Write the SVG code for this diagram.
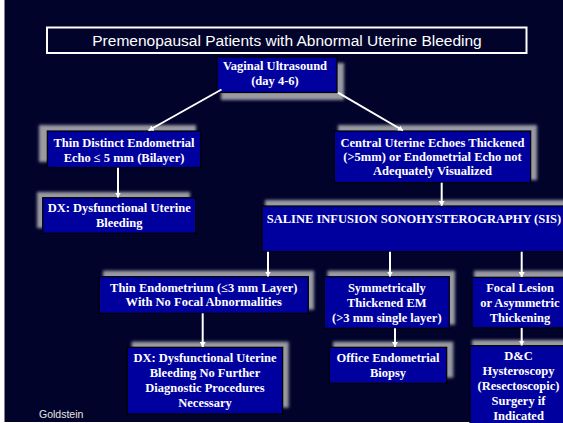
<svg xmlns="http://www.w3.org/2000/svg" width="563" height="423" viewBox="0 0 563 423">
<defs>
<filter id="blur" x="-10%" y="-20%" width="120%" height="140%"><feGaussianBlur stdDeviation="1.5"/></filter>
<marker id="arr" markerWidth="6" markerHeight="6" refX="5" refY="3" orient="auto" markerUnits="userSpaceOnUse"><path d="M0,0 L5,3 L0,6 z" fill="#ffffff"/></marker>
</defs>
<style>
.bg{fill:#01032b}
.box{fill:#00009e;stroke:#000000;stroke-width:1.2}
.sh{fill:#9a9aa2;filter:url(#blur)}
.t{font-family:"Liberation Serif","Times New Roman",serif;font-weight:bold;font-size:12.5px;fill:#ffffff;text-anchor:middle}
.c{stroke:#ffffff;stroke-width:2;fill:none;marker-end:url(#arr)}
</style>
<rect x="0" y="0" width="563" height="423" fill="#ffffff"/>
<rect class="bg" x="4.5" y="0" width="559" height="422"/>

<g id="title">
<rect x="47" y="27.5" width="479.5" height="25.5" fill="none" stroke="#ffffff" stroke-width="2"/>
<text x="287" y="46" font-family="'Liberation Sans',Arial,sans-serif" font-size="15.5" fill="#ffffff" text-anchor="middle">Premenopausal Patients with Abnormal Uterine Bleeding</text>
</g>

<g id="vaginal">
<rect class="sh" x="221" y="63" width="123" height="37"/>
<rect class="box" x="217" y="57" width="120" height="35.5"/>
<text class="t" x="275" y="69.5">Vaginal Ultrasound</text>
<text class="t" x="275" y="85">(day 4-6)</text>
</g>

<g id="thin-distinct">
<rect class="sh" x="39" y="125" width="157" height="37"/>
<rect class="box" x="47.3" y="131" width="153.4" height="36.7"/>
<text class="t" x="124" y="146.5">Thin Distinct Endometrial</text>
<text class="t" x="124" y="161.5">Echo ≤ 5 mm (Bilayer)</text>
</g>

<g id="dx-dub">
<rect class="sh" x="37" y="192" width="153" height="36"/>
<rect class="box" x="42.7" y="197.7" width="153" height="35.5"/>
<text class="t" x="119.2" y="211.7">DX: Dysfunctional Uterine</text>
<text class="t" x="119.2" y="226.7">Bleeding</text>
</g>

<g id="central">
<rect class="sh" x="338" y="125" width="199" height="55"/>
<rect class="box" x="334.3" y="131" width="196.4" height="51.7"/>
<text class="t" x="432.5" y="146.5">Central Uterine Echoes Thickened</text>
<text class="t" x="432.5" y="160.8">(&gt;5mm) or Endometrial Echo not</text>
<text class="t" x="432.5" y="175.2">Adequately Visualized</text>
</g>

<g id="sis">
<rect class="sh" x="265" y="200" width="310" height="44"/>
<rect class="box" x="262" y="206" width="306" height="45.7"/>
<text class="t" x="414" y="222.7">SALINE INFUSION SONOHYSTEROGRAPHY (SIS)</text>
</g>

<g id="thin-endometrium">
<rect class="sh" x="103" y="270.7" width="211" height="39"/>
<rect class="box" x="99.3" y="276.7" width="209" height="36.6"/>
<text class="t" x="203.8" y="291.7">Thin Endometrium (≤3 mm Layer)</text>
<text class="t" x="203.8" y="306">With No Focal Abnormalities</text>
</g>

<g id="dx-no-further">
<rect class="sh" x="131.7" y="341.7" width="157" height="66"/>
<rect class="box" x="127.3" y="347.3" width="155.4" height="66.7"/>
<text class="t" x="205" y="361.7">DX: Dysfunctional Uterine</text>
<text class="t" x="205" y="376.7">Bleeding No Further</text>
<text class="t" x="205" y="391.7">Diagnostic Procedures</text>
<text class="t" x="205" y="406.7">Necessary</text>
</g>

<g id="symmetric">
<rect class="sh" x="327.5" y="270.7" width="127.5" height="54"/>
<rect class="box" x="324.3" y="276.7" width="125" height="51.6"/>
<text class="t" x="386.8" y="291.7">Symmetrically</text>
<text class="t" x="386.8" y="306.7">Thickened EM</text>
<text class="t" x="386.8" y="321.7">(&gt;3 mm single layer)</text>
</g>

<g id="office-biopsy">
<rect class="sh" x="333" y="341.7" width="120.3" height="36"/>
<rect class="box" x="329.3" y="347.3" width="117.4" height="36"/>
<text class="t" x="388" y="361.7">Office Endometrial</text>
<text class="t" x="388" y="376.7">Biopsy</text>
</g>

<g id="focal">
<rect class="sh" x="474" y="270.7" width="100" height="54"/>
<rect class="box" x="472" y="277.3" width="96" height="50.6"/>
<text class="t" x="520" y="291.7">Focal Lesion</text>
<text class="t" x="520" y="306.5">or Asymmetric</text>
<text class="t" x="520" y="321.5">Thickening</text>
</g>

<g id="dc-hysteroscopy">
<rect class="sh" x="472" y="340" width="100" height="90"/>
<rect class="box" x="470" y="345.7" width="97" height="85"/>
<text class="t" x="518.5" y="360">D&amp;C</text>
<text class="t" x="518.5" y="375">Hysteroscopy</text>
<text class="t" x="518.5" y="390">(Resectoscopic)</text>
<text class="t" x="518.5" y="405">Surgery if</text>
<text class="t" x="518.5" y="419.5">Indicated</text>
</g>

<g id="connectors">
<line class="c" x1="221.5" y1="89.5" x2="148.5" y2="130.5"/>
<line class="c" x1="338" y1="92.7" x2="403" y2="130.5"/>
<line class="c" x1="118" y1="167.7" x2="118" y2="197.5"/>
<line class="c" x1="441.7" y1="182.7" x2="441.7" y2="205.8"/>
<line class="c" x1="268" y1="251.7" x2="268" y2="276.5"/>
<line class="c" x1="390" y1="251.7" x2="390" y2="276.5"/>
<line class="c" x1="521.7" y1="251.7" x2="521.7" y2="277"/>
<line class="c" x1="202.7" y1="313.3" x2="202.7" y2="347"/>
<line class="c" x1="395" y1="328.3" x2="395" y2="347"/>
<line class="c" x1="521.7" y1="327.9" x2="521.7" y2="345.5"/>
</g>

<text x="39" y="418" font-family="'Liberation Sans',Arial,sans-serif" font-size="10.5" fill="#e6e6e6">Goldstein</text>
</svg>
